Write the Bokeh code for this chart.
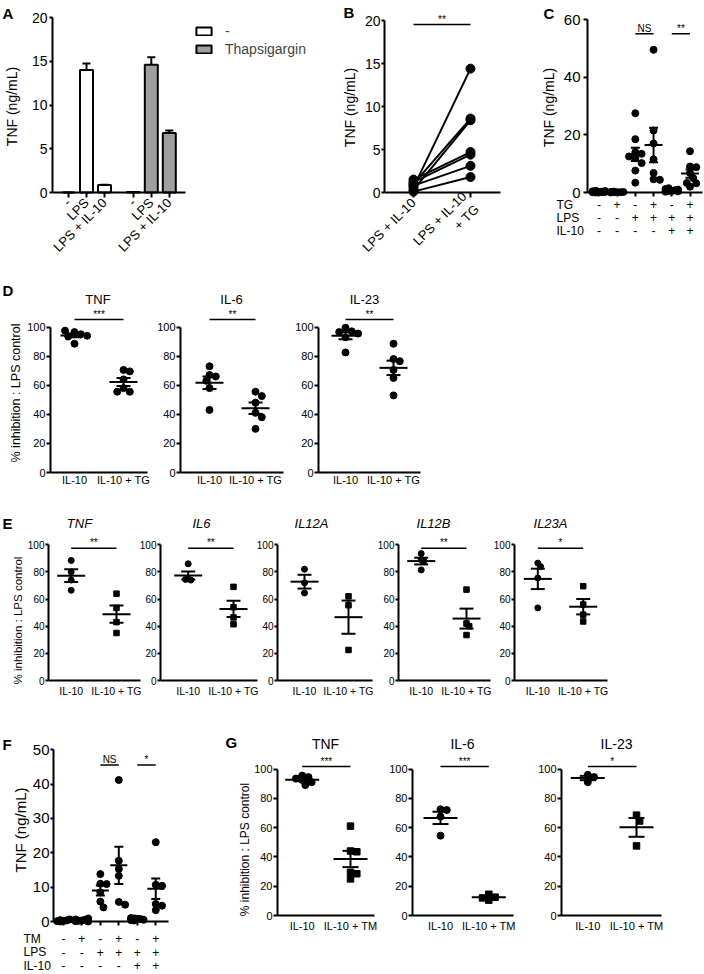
import math
import numpy as np
from bokeh.plotting import figure
from bokeh.models import Range1d, FixedTicker, Label, Legend, LegendItem, LinearAxis, Grid
from bokeh.core.properties import value
from bokeh.embed import file_html
from bokeh.resources import INLINE

FONT = "Liberation Sans"
GRAY = "#9f9f9f"

# ---------------- DATA ----------------
# A
a_cats = ["-", "LPS", "LPS + IL-10"]
a_series = ["-", "Thapsigargin"]
a_ctrl_mean = [0.0, 14.0, 0.85]
a_ctrl_err = [0.0, 0.75, 0.05]
a_tg_mean = [0.05, 14.6, 6.8]
a_tg_err = [0.0, 0.85, 0.3]

# B (paired)
b_cats = ["LPS + IL-10", "LPS + IL-10\n+ TG"]
b_lps_il10 = [0.6, 1.0, 0.3, 1.5, 1.2, 0.8, 0.1]
b_lps_il10_tg = [14.4, 8.6, 8.4, 4.7, 4.4, 3.1, 1.8]
b_sig = "**"

# C
c_rows = ["TG", "LPS", "IL-10"]
c_signs = [["-", "+", "-", "+", "-", "+"],
           ["-", "-", "+", "+", "+", "+"],
           ["-", "-", "-", "-", "+", "+"]]
c_groups = [
    [0.2, 0.5, 0.1, 0.3, 0.6, 0.0, 0.4, 0.2, 0.1],
    [0.1, 0.2, 0.0, 0.3, 0.1, 0.2, 0.1],
    [27.5, 18.5, 14.0, 13.4, 12.5, 11.9, 10.2, 7.6, 3.4],
    [49.5, 21.5, 17.0, 11.5, 6.8, 4.6, 4.4],
    [0.5, 1.0, 0.3, 1.5, 0.8, 0.6, 1.2, 0.4],
    [14.3, 9.0, 8.8, 6.8, 5.0, 3.3, 3.2, 2.0],
]
c_sig = [(2, 3, "NS"), (4, 5, "**")]

# D
d_cytokines = ["TNF", "IL-6", "IL-23"]
d_cats = ["IL-10", "IL-10 + TG"]
d_il10 = [[96.5, 95.0, 93.5, 94.0, 97.5, 88.5],
          [73.0, 67.0, 66.0, 63.0, 58.0, 43.0],
          [99.5, 97.0, 96.5, 95.5, 93.0, 82.5]]
d_il10_tg = [[70.5, 69.5, 64.0, 58.0, 55.5, 55.5],
             [55.5, 52.5, 48.0, 41.0, 38.0, 30.0],
             [88.5, 78.0, 76.5, 70.5, 65.0, 53.0]]
d_sig = ["***", "**", "**"]

# E
e_genes = ["TNF", "IL6", "IL12A", "IL12B", "IL23A"]
e_cats = ["IL-10", "IL-10 + TG"]
e_il10 = [[88.5, 80.0, 74.0, 66.5],
          [86.0, 75.0, 74.0, 74.5],
          [82.0, 72.0, 64.5],
          [93.5, 89.0, 88.0, 81.5],
          [86.5, 84.0, 75.5, 53.5]]
e_il10_tg = [[64.0, 53.5, 43.0, 35.0],
             [69.0, 54.0, 46.5, 41.5],
             [62.0, 55.5, 22.5],
             [67.0, 42.0, 40.0, 33.5],
             [69.5, 56.0, 48.5, 43.5]]
e_sig = ["**", "**", "", "**", "*"]

# F
f_rows = ["TM", "LPS", "IL-10"]
f_signs = c_signs
f_groups = [
    [0.2, 0.6, 0.1, 0.3, 0.0, 0.4],
    [0.3, 0.9, 0.1, 0.5, 0.2, 0.6, 0.0],
    [13.8, 11.0, 10.9, 8.5, 5.8, 4.1],
    [41.2, 17.7, 15.3, 13.3, 5.7, 4.9],
    [0.8, 0.5, 1.0, 0.3, 0.7, 0.9, 0.4],
    [23.1, 10.7, 10.4, 5.1, 4.6, 3.3],
]
f_sig = [(2, 3, "NS"), (4, 5, "*")]

# G
g_cytokines = ["TNF", "IL-6", "IL-23"]
g_cats = ["IL-10", "IL-10 + TM"]
g_il10 = [[95.5, 94.5, 93.5, 92.5, 91.0, 89.0],
          [72.5, 72.0, 67.5, 54.5],
          [96.0, 94.5, 91.0]]
g_il10_tm = [[61.0, 44.0, 43.5, 29.5, 28.5, 25.0],
             [14.5, 12.5, 12.0, 10.5],
             [68.5, 64.5, 47.5]]
g_sig = ["***", "***", "*"]

panel_letters = ["A", "B", "C", "D", "E", "F", "G"]

YLAB_INH = "% inhibition : LPS control"
YLAB_TNF = "TNF (ng/mL)"

# ---------------- CANVAS (page pixel coordinates on main ranges) ----------------
W, H = 704, 974
fig = figure(width=W, height=H, x_range=Range1d(0, W), y_range=Range1d(H, 0),
             x_axis_location=None, y_axis_location=None,
             min_border=0, min_border_left=0, min_border_right=0,
             min_border_top=0, min_border_bottom=0,
             output_backend="svg", toolbar_location=None, tools="", title=None)
fig.outline_line_color = None
fig.background_fill_color = "white"
fig.border_fill_color = "white"
for g in fig.select({"type": Grid}):
    g.visible = False
fig.center = [r for r in fig.center if not isinstance(r, Grid)]


class Panel:
    n = 0

    def __init__(self, x0px, xppu, y0px, yppu):
        Panel.n += 1
        self.xn, self.yn = f"x{Panel.n}", f"y{Panel.n}"
        self.x0, self.xp, self.y0, self.yp = x0px, xppu, y0px, yppu
        fig.extra_x_ranges[self.xn] = Range1d(-x0px / xppu, (W - x0px) / xppu)
        fig.extra_y_ranges[self.yn] = Range1d((y0px - H) / yppu, y0px / yppu)
        self.kw = dict(x_range_name=self.xn, y_range_name=self.yn)

    def X(self, px):
        return (px - self.x0) / self.xp

    def Y(self, py):
        return (self.y0 - py) / self.yp


def base_axis(ax, size, tick_out, standoff):
    ax.axis_line_width = 2
    ax.axis_line_color = "black"
    ax.major_tick_line_width = 2
    ax.major_tick_line_color = "black" if tick_out > 0 else None
    ax.major_tick_in = 0
    ax.major_tick_out = tick_out
    ax.minor_tick_line_color = None
    ax.major_label_text_font = FONT
    ax.major_label_text_font_size = size
    ax.major_label_text_color = "black"
    ax.major_label_standoff = standoff


def add_yaxis(P, Lpx, ticks, size, tick_out=4, standoff=1):
    ax = LinearAxis(fixed_location=P.X(Lpx), bounds=(ticks[0], ticks[-1]),
                    ticker=FixedTicker(ticks=ticks), **P.kw)
    base_axis(ax, size, tick_out, standoff)
    fig.add_layout(ax, "left")


def add_xaxis(P, Lpx, Rpx, ticks, labels, size, tick_out=0, standoff=2, orient=None):
    ax = LinearAxis(fixed_location=0, bounds=(P.X(Lpx), P.X(Rpx)),
                    ticker=FixedTicker(ticks=ticks),
                    major_label_overrides={t: l for t, l in zip(ticks, labels)}, **P.kw)
    base_axis(ax, size, tick_out, standoff)
    if orient is not None:
        ax.major_label_orientation = orient
    fig.add_layout(ax, "below")


def txt(px, py, text, size, align="center", style="normal", angle=0.0, x_range_name=None):
    kw = {}
    if x_range_name:
        kw["x_range_name"] = x_range_name
    fig.add_layout(Label(x=px, y=py, text=text, text_font=FONT, text_font_size=size,
                         text_align=align, text_baseline="middle", text_font_style=style,
                         text_color="black", angle=angle, **kw))


def ylabel(px, py, text, size):
    txt(px, py, text, size, angle=math.pi / 2)


def sig(P, x0, x1, yv, text, size="10px"):
    fig.segment(x0=[x0], y0=[yv], x1=[x1], y1=[yv], line_width=1.5, color="black", **P.kw)
    fig.text(x=[(x0 + x1) / 2], y=[yv], text=[text], text_align="center",
             text_baseline="bottom", text_font=value(FONT), text_font_size=value(size),
             text_color="black", **P.kw)


def swarm(vals, size, ppu_y, spread, step_frac=0.45, mind_frac=0.85):
    placed, offs = [], []
    step = step_frac * size
    n = int(spread // step)
    cands = [0.0]
    for j in range(1, n + 1):
        cands += [j * step, -j * step]
    for v in vals:
        vy = v * ppu_y
        best, best_d = None, -1
        for c in cands:
            d = min([math.hypot(c - px, vy - py) for px, py in placed] or [1e9])
            if d >= mind_frac * size:
                best = c
                break
            if d > best_d:
                best, best_d = c, d
        placed.append((best, vy))
        offs.append(best)
    return offs


def dots(P, xs, groups, markers, size, mean_hw, cap_hw, spread, msize=None):
    for x, vals, mk in zip(xs, groups, markers):
        offs = swarm(vals, size, P.yp, spread)
        sz = size if (msize is None or mk == "circle") else msize
        fig.scatter(x=[x + o / P.xp for o in offs], y=vals, marker=mk, size=sz,
                    color="black", **P.kw)
        m = float(np.mean(vals))
        s = float(np.std(vals, ddof=1) / np.sqrt(len(vals)))
        mw, cw = mean_hw / P.xp, cap_hw / P.xp
        fig.segment(x0=[x - mw], y0=[m], x1=[x + mw], y1=[m], line_width=2, color="black", **P.kw)
        fig.segment(x0=[x], y0=[m - s], x1=[x], y1=[m + s], line_width=2, color="black", **P.kw)
        fig.segment(x0=[x - cw, x - cw], y0=[m - s, m + s], x1=[x + cw, x + cw],
                    y1=[m - s, m + s], line_width=2, color="black", **P.kw)


# ---------------- PANEL A ----------------
PA = Panel(68, 3.6, 192, 8.75)
slot, gstep = 5, 18
a_x_ctrl = [i * slot for i in range(len(a_cats))]
a_x_tg = [gstep + i * slot for i in range(len(a_cats))]
bw, capw = 13 / 3.6, 4 / 3.6
rA1 = fig.vbar(x=a_x_ctrl, top=a_ctrl_mean, width=bw, fill_color="white",
               line_color="black", line_width=2, **PA.kw)
rA2 = fig.vbar(x=a_x_tg, top=a_tg_mean, width=bw, fill_color=GRAY,
               line_color="black", line_width=2, **PA.kw)
for xs, m, e in ((a_x_ctrl, a_ctrl_mean, a_ctrl_err), (a_x_tg, a_tg_mean, a_tg_err)):
    hi = [mm + ee for mm, ee in zip(m, e)]
    fig.segment(x0=xs, y0=m, x1=xs, y1=hi, line_width=2, color="black", **PA.kw)
    fig.segment(x0=[x - capw for x in xs], y0=hi, x1=[x + capw for x in xs], y1=hi,
                line_width=2, color="black", **PA.kw)
add_yaxis(PA, 52, [0, 5, 10, 15, 20], "14px", tick_out=3, standoff=2)
add_xaxis(PA, 52, 185, a_x_ctrl + a_x_tg, a_cats + a_cats, "13px", tick_out=5, standoff=3,
          orient=math.pi / 4)
ylabel(11, 106, YLAB_TNF, "14px")
legA = Legend(items=[LegendItem(label=a_series[0], renderers=[rA1]),
                     LegendItem(label=a_series[1], renderers=[rA2])],
              location=(194, H - 57), orientation="vertical", glyph_width=19, glyph_height=10,
              label_height=10, spacing=2, padding=0, margin=0, border_line_color=None,
              background_fill_alpha=0, label_text_font=FONT, label_text_font_size="14px",
              label_standoff=12)
fig.add_layout(legA)

# ---------------- PANEL B ----------------
PB = Panel(413, 57, 192, 8.6)
nB = len(b_lps_il10)
fig.segment(x0=[0] * nB, y0=b_lps_il10, x1=[1] * nB, y1=b_lps_il10_tg, line_width=2,
            color="black", **PB.kw)
fig.scatter(x=[0] * nB + [1] * nB, y=b_lps_il10 + b_lps_il10_tg, size=9, color="black", **PB.kw)
sig(PB, 0, 1, PB.Y(24), b_sig)
add_yaxis(PB, 384, [0, 5, 10, 15, 20], "14px", tick_out=3, standoff=1)
add_xaxis(PB, 384, 500, [0, 1], b_cats, "13px", tick_out=5, standoff=3, orient=math.pi / 4)
ylabel(349, 107, YLAB_TNF, "14px")

# ---------------- PANEL C ----------------
PC = Panel(598.4, 18.22, 192, 2.883)
dots(PC, list(range(6)), c_groups, ["circle"] * 6, 7, 9, 4.5, 8)
for a, b, t in c_sig:
    sig(PC, a, b, PC.Y(33.3), t, size="10px")
add_yaxis(PC, 587, [0, 20, 40, 60], "15px", tick_out=4, standoff=3)
add_xaxis(PC, 587, 702, list(range(6)), [""] * 6, "10px", tick_out=4, standoff=0)
ylabel(548.5, 107, YLAB_TNF, "14px")
for r, (rname, signs) in enumerate(zip(c_rows, c_signs)):
    ypx = 204 + 13 * r
    txt(556, ypx, rname, "12px", align="left")
    for i, s in enumerate(signs):
        txt(i, ypx, s, "12px", x_range_name=PC.xn)

# ---------------- PANEL D ----------------
d_layout = [(50, 147, 74, 49), (180, 283, 209, 46), (318, 420, 345, 48)]
d_title_x = [97.5, 231, 364]
for k, (L, R, c0, ppu) in enumerate(d_layout):
    P = Panel(c0, ppu, 472, 1.455)
    dots(P, [0, 1], [d_il10[k], d_il10_tg[k]], ["circle", "circle"], 7, 14, 7, 13)
    sig(P, 0, 1, P.Y(319), d_sig[k])
    add_yaxis(P, L, [0, 20, 40, 60, 80, 100], "11px", tick_out=4, standoff=1)
    add_xaxis(P, L, R, [0, 1], d_cats, "11px", tick_out=0, standoff=1)
    txt(d_title_x[k], 299, d_cytokines[k], "13px")
ylabel(15, 392.5, YLAB_INH, "12.5px")

# ---------------- PANEL E ----------------
e_layout = [(48, 140, 70.7, 45.3), (160, 257, 187.7, 45.3), (277, 372, 304, 44),
            (398, 490, 420.7, 45.3), (514, 607, 537.3, 45.4)]
e_title_x = [79, 201, 311, 433, 550]
for k, (L, R, c0, ppu) in enumerate(e_layout):
    P = Panel(c0, ppu, 680, 1.357)
    dots(P, [0, 1], [e_il10[k], e_il10_tg[k]], ["circle", "square"], 6, 14, 7, 5, msize=5.5)
    if e_sig[k]:
        sig(P, 0, 1, P.Y(547.7), e_sig[k])
    add_yaxis(P, L, [0, 20, 40, 60, 80, 100], "10px", tick_out=3, standoff=1)
    add_xaxis(P, L, R, [0, 1], e_cats, "10.5px", tick_out=0, standoff=4)
    txt(e_title_x[k], 523, e_genes[k], "13px", style="italic")
ylabel(17, 620, YLAB_INH, "11.5px")

# ---------------- PANEL F ----------------
PF = Panel(62.9, 18.47, 921, 3.434)
dots(PF, list(range(6)), f_groups, ["circle"] * 6, 7, 8.5, 4.5, 8)
for a, b, t in f_sig:
    sig(PF, a, b, PF.Y(764.4), t, size="10px")
add_yaxis(PF, 53, [0, 10, 20, 30, 40, 50], "15px", tick_out=3, standoff=1)
add_xaxis(PF, 53, 168, list(range(6)), [""] * 6, "10px", tick_out=4, standoff=0)
ylabel(19.5, 829.5, YLAB_TNF, "15px")
for r, (rname, signs) in enumerate(zip(f_rows, f_signs)):
    ypx = 938 + 13.5 * r
    txt(23, ypx, rname, "12px", align="left")
    for i, s in enumerate(signs):
        txt(i, ypx, s, "12px", x_range_name=PF.xn)

# ---------------- PANEL G ----------------
g_layout = [(277, 374, 301.7, 48.3), (412, 513, 440, 48.3), (561, 661, 587.3, 48.7)]
g_title_x = [325, 462, 616]
for k, (L, R, c0, ppu) in enumerate(g_layout):
    P = Panel(c0, ppu, 915, 1.465)
    dots(P, [0, 1], [g_il10[k], g_il10_tm[k]], ["circle", "square"], 7, 17, 8, 12, msize=6.5)
    sig(P, 0, 1, P.Y(766), g_sig[k])
    add_yaxis(P, L, [0, 20, 40, 60, 80, 100], "11px", tick_out=4, standoff=1)
    add_xaxis(P, L, R, [0, 1], g_cats, "11px", tick_out=0, standoff=4)
    txt(g_title_x[k], 743, g_cytokines[k], "14px")
ylabel(244, 849, YLAB_INH, "12px")

# ---------------- PANEL LETTERS (page coordinates) ----------------
letter_x = [2, 343, 543, 2, 2, 2, 225]
letter_y = [12.5, 12, 12.5, 290, 522.5, 743.5, 742]
fig.text(x=letter_x, y=letter_y, text=panel_letters, text_align="left", text_baseline="middle",
         text_font=value(FONT), text_font_size=value("15px"), text_font_style="bold",
         text_color="black")

open("out.html", "w").write(file_html(fig, INLINE))
